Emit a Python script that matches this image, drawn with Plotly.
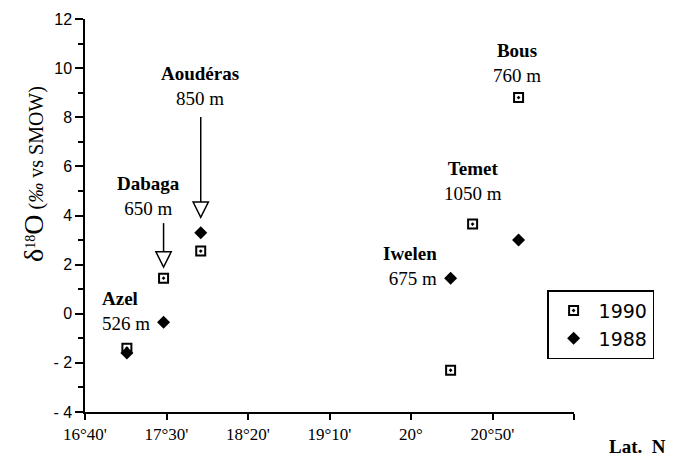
import plotly.graph_objects as go

# ---- data (latitude in decimal degrees N, delta18O in permil vs SMOW) ----
lat_1990 = [17.095, 17.47, 17.85, 20.405, 20.63, 21.10]
d18o_1990 = [-1.4, 1.45, 2.55, -2.3, 3.65, 8.8]

lat_1988 = [17.095, 17.47, 17.85, 20.405, 21.10]
d18o_1988 = [-1.6, -0.35, 3.3, 1.45, 3.0]

x_tick_vals = [16 + 40/60, 17.5, 18 + 20/60, 19 + 10/60, 20.0, 20 + 50/60]
x_tick_text = ["16°40'", "17°30'", "18°20'", "19°10'", "20°", "20°50'"]
y_tick_vals = [-4, -2, 0, 2, 4, 6, 8, 10, 12]
y_tick_text = ["- 4", "- 2", "0", "2", "4", "6", "8", "10", "12"]

# site labels: name, elevation
site_names = ["Aoudéras", "Dabaga", "Azel", "Bous", "Temet", "Iwelen"]
site_elev = ["850 m", "650 m", "526 m", "760 m", "1050 m", "675 m"]

# label placement (layout, not data)
label_pos = [
    (17.838, 9.27, "center", "center"),
    (17.32, 4.80, "center", "center"),
    (16.82, 0.13, "left", "left"),
    (21.088, 10.21, "center", "center"),
    (20.63, 5.39, "center", "center"),
    (20.283, 1.93, "right", "right"),
]

# arrows: index of 1990 point they point at, top of shaft, tip
arrow_site_idx = [2, 1]
arrow_top = [8.01, 3.69]
arrow_tip = [3.93, 1.90]

serif = "Liberation Serif"
sans = "Liberation Sans"

fig = go.Figure()
fig.add_trace(go.Scatter(
    x=lat_1990, y=d18o_1990, mode="markers", name="1990",
    marker=dict(symbol="square-open-dot", size=9, color="black",
                line=dict(width=2, color="black")),
))
fig.add_trace(go.Scatter(
    x=lat_1988, y=d18o_1988, mode="markers", name="1988",
    marker=dict(symbol="diamond", size=10, color="black"),
))

annotations = []
for (name, elev, (lx, ly, xa, al)) in zip(site_names, site_elev, label_pos):
    annotations.append(dict(
        x=lx, y=ly, xref="x", yref="y", showarrow=False,
        text=f"<b>{name}</b><br>{elev}", align=al, xanchor=xa, yanchor="middle",
        font=dict(family=serif, size=19, color="black"),
    ))

shapes = []
dx = 0.078
dy = 0.62
for idx, ytop, ytip in zip(arrow_site_idx, arrow_top, arrow_tip):
    ax = lat_1990[idx]
    shapes.append(dict(type="line", xref="x", yref="y", x0=ax, x1=ax,
                       y0=ytop, y1=ytip + dy, line=dict(color="black", width=1.5)))
    shapes.append(dict(type="path", xref="x", yref="y",
                       path=f"M {ax - dx},{ytip + dy} L {ax},{ytip} L {ax + dx},{ytip + dy} Z",
                       fillcolor="white", line=dict(color="black", width=1.5)))

annotations.append(dict(
    x=-0.105, y=0.605, xref="paper", yref="paper", showarrow=False, textangle=-90,
    text="<span style='font-size:28px'>δ</span><sup>18</sup>"
         "<span style='font-size:28px'>O</span> (<i>‰</i> vs SMOW)",
    font=dict(family=serif, size=20, color="black"),
    xanchor="center", yanchor="middle",
))
annotations.append(dict(
    x=1.192, y=-0.089, xref="paper", yref="paper", showarrow=False,
    text="<b>Lat.  N</b>", xanchor="right", yanchor="middle",
    font=dict(family=serif, size=19, color="black"),
))

fig.update_layout(
    width=679, height=459,
    margin=dict(l=85, r=105, t=19, b=47),
    paper_bgcolor="white", plot_bgcolor="white",
    showlegend=True,
    legend=dict(x=0.945, y=0.31, xanchor="left", yanchor="top",
                bordercolor="black", borderwidth=1.5, bgcolor="white",
                itemwidth=40,
                font=dict(family="DejaVu Sans", size=19, color="black")),
    annotations=annotations,
    shapes=shapes,
)
fig.update_xaxes(
    range=[16 + 40/60, 21 + 40/60], tickvals=x_tick_vals, ticktext=x_tick_text,
    showgrid=False, zeroline=False, showline=True, linecolor="black", linewidth=1.5,
    ticks="outside", ticklen=6, tickwidth=1.5, tickcolor="black",
    tickfont=dict(family=serif, size=17, color="black"),
    minor=dict(tick0=16 + 40/60, dtick=50/60, ticks="outside", ticklen=6,
               tickwidth=1.5, tickcolor="black", showgrid=False),
)
fig.update_yaxes(
    range=[-4, 12], tickvals=y_tick_vals, ticktext=y_tick_text,
    showgrid=False, zeroline=False, showline=True, linecolor="black", linewidth=1.5,
    ticks="outside", ticklen=8, tickwidth=1.5, tickcolor="black",
    tickfont=dict(family=sans, size=16, color="black"),
    minor=dict(dtick=1, ticks="outside", ticklen=5, tickwidth=1.5, tickcolor="black", showgrid=False),
)

fig.write_html("out.html")
